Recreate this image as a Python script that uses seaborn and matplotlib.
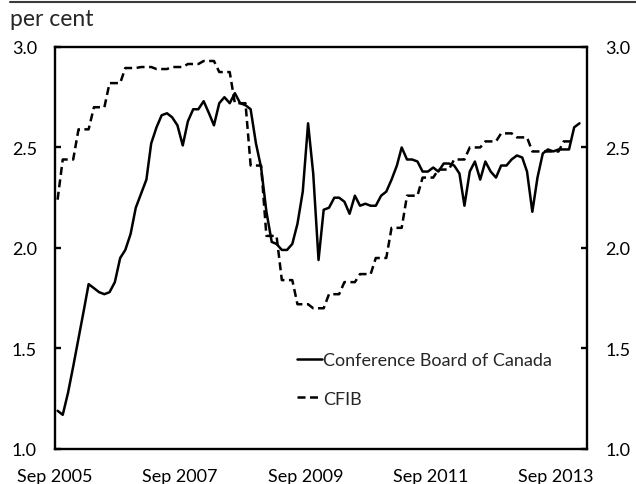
import pandas as pd
import numpy as np
import matplotlib
matplotlib.use('Agg')
import matplotlib.pyplot as plt
from matplotlib.lines import Line2D
import seaborn as sns

# monthly series, first value = Sep 2005
start = '2005-09-01'

conference_board = [
    1.19, 1.17, 1.28, 1.41, 1.55, 1.69, 1.82, 1.80, 1.78, 1.77,
    1.78, 1.83, 1.95, 1.99, 2.07, 2.20, 2.27, 2.34, 2.52, 2.60,
    2.66, 2.67, 2.65, 2.61, 2.51, 2.63, 2.69, 2.69, 2.73, 2.67,
    2.61, 2.72, 2.75, 2.72, 2.77, 2.72, 2.71, 2.69, 2.52, 2.40,
    2.18, 2.03, 2.02, 1.99, 1.99, 2.02, 2.12, 2.28, 2.62, 2.37,
    1.94, 2.19, 2.20, 2.25, 2.25, 2.23, 2.17, 2.26, 2.21, 2.22,
    2.21, 2.21, 2.26, 2.28, 2.34, 2.41, 2.50, 2.44, 2.44, 2.43,
    2.38, 2.38, 2.40, 2.38, 2.42, 2.42, 2.41, 2.37, 2.21, 2.38,
    2.43, 2.34, 2.43, 2.38, 2.35, 2.41, 2.41, 2.44, 2.46, 2.45,
    2.38, 2.18, 2.35, 2.47, 2.49, 2.48, 2.49, 2.49, 2.49, 2.60,
    2.62,
]

# CFIB is quarterly, repeated for each month of the quarter
cfib = [
    2.24,
    2.44, 2.44, 2.44, 2.59, 2.59, 2.59, 2.70, 2.70, 2.70,
    2.82, 2.82, 2.82, 2.895, 2.895, 2.895, 2.90, 2.90, 2.90,
    2.89, 2.89, 2.89, 2.90, 2.90, 2.90, 2.915, 2.915, 2.915,
    2.93, 2.93, 2.93, 2.875, 2.875, 2.875, 2.72, 2.72, 2.72,
    2.41, 2.41, 2.41, 2.06, 2.06, 2.06, 1.84, 1.84, 1.84,
    1.72, 1.72, 1.72, 1.70, 1.70, 1.70, 1.77, 1.77, 1.77,
    1.83, 1.83, 1.83, 1.87, 1.87, 1.87, 1.95, 1.95, 1.95,
    2.10, 2.10, 2.10, 2.26, 2.26, 2.26, 2.35, 2.35, 2.35,
    2.39, 2.39, 2.39, 2.44, 2.44, 2.44, 2.50, 2.50, 2.50,
    2.53, 2.53, 2.53, 2.57, 2.57, 2.57, 2.55, 2.55, 2.55,
    2.48, 2.48, 2.48, 2.48, 2.48, 2.48, 2.53, 2.53, 2.53,
]

tick_dates = ['2005-09-01', '2007-09-01', '2009-09-01', '2011-09-01', '2013-09-01']
tick_labels = ['Sep 2005', 'Sep 2007', 'Sep 2009', 'Sep 2011', 'Sep 2013']
y_ticks = [1.0, 1.5, 2.0, 2.5, 3.0]

sns.set_style('white')
plt.rcParams['font.family'] = ['Lato', 'DejaVu Sans']

# points sit in the middle of each month
cb = pd.DataFrame({'date': pd.date_range(start, periods=len(conference_board), freq='MS') + pd.Timedelta(days=15),
                   'value': conference_board})
cf = pd.DataFrame({'date': pd.date_range(start, periods=len(cfib), freq='MS') + pd.Timedelta(days=15),
                   'value': cfib})

fig = plt.figure(figsize=(6.36, 4.85), dpi=100)
ax = fig.add_axes([0.0865, 0.0722, 0.8365, 0.829])

sns.lineplot(data=cb, x='date', y='value', ax=ax, color='black', linewidth=1.8,
             label='Conference Board of Canada')
sns.lineplot(data=cf, x='date', y='value', ax=ax, color='black', linewidth=1.8,
             linestyle=(0, (3.2, 1.8)), label='CFIB')

ax.set_xlim(pd.Timestamp('2005-09-01'), pd.Timestamp('2014-03-01'))
ax.set_ylim(1.0, 3.0)
ax.set_xticks([pd.Timestamp(d) for d in tick_dates])
ax.set_xticklabels(tick_labels)
ax.set_yticks(y_ticks)
ax.set_yticklabels([f'{v:.1f}' for v in y_ticks])
ax.set_xlabel('')
ax.set_ylabel('')

for s in ax.spines.values():
    s.set_visible(True)
    s.set_color('black')
    s.set_linewidth(1.7)

ax.tick_params(axis='x', direction='in', length=4, width=1.7, pad=14, labelsize=13, colors='black')
ax.tick_params(axis='y', direction='in', length=4, width=1.7, pad=13, labelsize=13, colors='black',
               left=True, right=True, labelleft=True, labelright=True)

ax.legend(loc='upper left', bbox_to_anchor=(0.455, 0.241), frameon=False, fontsize=13,
          handlelength=1.4, handletextpad=0.05, labelspacing=1.25, borderpad=0, borderaxespad=0)

fig.add_artist(Line2D([10 / 636, 1.0], [1 - 3 / 485, 1 - 3 / 485], color='#3a3a3a', linewidth=1.5))
fig.text(10 / 636, 1 - 19 / 485, 'per cent', va='center', ha='left', fontsize=16.5)

fig.savefig('out.png', dpi=100)
